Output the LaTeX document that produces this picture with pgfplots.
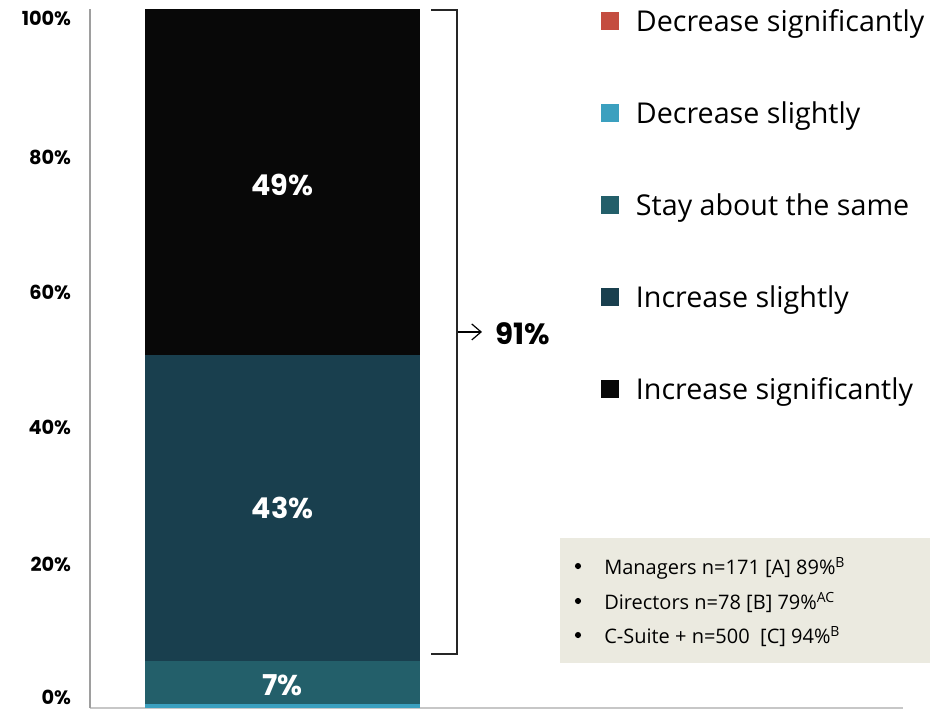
\documentclass[border=0pt]{standalone}
\usepackage{fontspec}
\setmainfont{Open Sans}
\newfontfamily\pop{Poppins}
\usepackage{pgfplots}
\usetikzlibrary{arrows.meta}
\pgfplotsset{compat=1.18}
\definecolor{cRed}{HTML}{C44D40}
\definecolor{cLBlue}{HTML}{3BA0BF}
\definecolor{cTeal}{HTML}{235F6A}
\definecolor{cDTeal}{HTML}{193F4E}
\definecolor{cBlack}{HTML}{080808}
\definecolor{cBox}{HTML}{EBEAE0}
\begin{document}
\begin{tikzpicture}
\begin{axis}[
  x=0.75pt, y=5.2425pt,
  xmin=90, xmax=903, ymin=0, ymax=100,
  axis x line=bottom, axis y line=left,
  x axis line style={-, draw=black!22, line width=1.2pt},
  y axis line style={-, draw=black!38, line width=1.6pt},
  xtick=\empty,
  ytick={1.5,20.5,40.1,59.5,78.8,98.6},
  yticklabels={0\%,20\%,40\%,60\%,80\%,100\%},
  major tick length=0pt,
  yticklabel style={inner sep=0pt, xshift=-14pt, font=\pop\bfseries\fontsize{14.5}{16}\selectfont},
  ybar stacked, bar width=275,
  clip=false,
  legend cell align=left,
  legend style={draw=none, fill=none, at={(0.6285,0.9971)}, anchor=north west,
    inner sep=0pt, outer sep=0pt, row sep=49.5pt, column sep=12.75pt,
    font=\fontsize{21.5}{25}\selectfont,
    nodes={inner sep=0pt, text height=15pt, text depth=4.5pt}},
  legend image code/.code={\fill[#1] (0pt,-4.5pt) rectangle (13.5pt,9pt);},
]
\addplot[fill=cRed, draw=none] coordinates {(282.5,0)};
\addlegendentry{Decrease significantly}
\addplot[fill=cLBlue, draw=none] coordinates {(282.5,0.6)};
\addlegendentry{Decrease slightly}
\addplot[fill=cTeal, draw=none] coordinates {(282.5,6.1)};
\addlegendentry{Stay about the same}
\addplot[fill=cDTeal, draw=none] coordinates {(282.5,43.8)};
\addlegendentry{Increase slightly}
\addplot[fill=cBlack, draw=none] coordinates {(282.5,49.5)};
\addlegendentry{Increase significantly}

\coordinate (L49) at (axis cs:282.5,74.8);
\coordinate (L43) at (axis cs:282.5,28.6);
\coordinate (L7) at (axis cs:282.5,3.3);
\coordinate (BrA) at (axis cs:431,99.86);
\coordinate (BrB) at (axis cs:457,99.86);
\coordinate (BrC) at (axis cs:457,7.73);
\coordinate (BrD) at (axis cs:431,7.73);
\coordinate (ArA) at (axis cs:458,53.8);
\coordinate (ArB) at (axis cs:482,53.8);
\coordinate (T91) at (axis cs:495,53.6);
\coordinate (BoxA) at (axis cs:560,24.32);
\coordinate (BoxB) at (axis cs:930,6.44);
\coordinate (B1) at (axis cs:578,20.31);
\coordinate (B2) at (axis cs:578,15.31);
\coordinate (B3) at (axis cs:578,10.44);
\coordinate (S1) at (axis cs:604,19.17);
\coordinate (S2) at (axis cs:604,14.16);
\coordinate (S3) at (axis cs:604,9.30);
\coordinate (bl) at (axis cs:0,-0.29);
\coordinate (tr) at (axis cs:949,101.29);
\end{axis}
\node[text=white, font=\pop\bfseries\fontsize{21.5}{24}\selectfont] at (L49) {49\%};
\node[text=white, font=\pop\bfseries\fontsize{21.5}{24}\selectfont] at (L43) {43\%};
\node[text=white, font=\pop\bfseries\fontsize{21.5}{24}\selectfont] at (L7) {7\%};
\draw[line width=1.2pt, black!85] (BrA) -- (BrB) -- (BrC) -- (BrD);
\draw[-{Straight Barb[length=7pt,width=12pt]}, line width=0.9pt] (ArA) -- (ArB);
\node[anchor=west, inner sep=0pt, font=\pop\bfseries\fontsize{22}{24}\selectfont] at (T91) {91\%};
\fill[cBox] (BoxA) rectangle (BoxB);
\fill[black] (B1) circle (2.3pt);
\fill[black] (B2) circle (2.3pt);
\fill[black] (B3) circle (2.3pt);
\node[anchor=base west, inner sep=0pt, font=\fontsize{15}{17}\selectfont] at (S1) {Managers n=171 [A] 89\%\textsuperscript{B}};
\node[anchor=base west, inner sep=0pt, font=\fontsize{15}{17}\selectfont] at (S2) {Directors n=78 [B] 79\%\textsuperscript{AC}};
\node[anchor=base west, inner sep=0pt, font=\fontsize{15}{17}\selectfont] at (S3) {C-Suite + n=500\ \ [C] 94\%\textsuperscript{B}};
\pgfresetboundingbox
\path[use as bounding box] (bl) rectangle (tr);
\end{tikzpicture}
\end{document}
